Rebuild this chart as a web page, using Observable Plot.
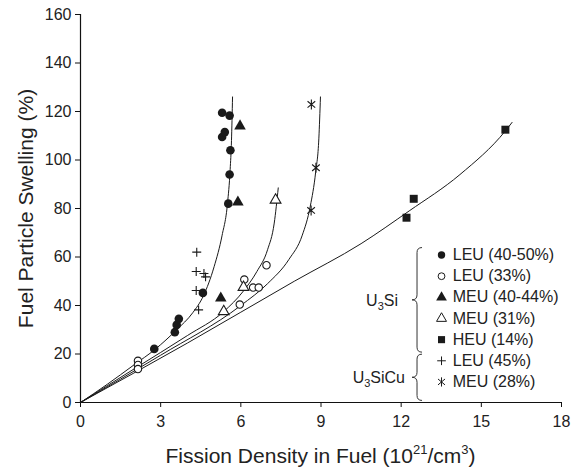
<!DOCTYPE html>
<html><head><meta charset="utf-8">
<script src="https://cdn.jsdelivr.net/npm/d3@7"></script>
<script src="https://cdn.jsdelivr.net/npm/@observablehq/plot@0.6"></script>
<style>
body{margin:0;background:#fff;}
svg{font-family:"Liberation Sans",Arial,sans-serif;}
</style></head><body><div id="chart"></div>
<script>
// ---- data ----
const xTicks = [0, 3, 6, 9, 12, 15, 18];
const yTicks = [0, 20, 40, 60, 80, 100, 120, 140, 160];

const leu4050X = [2.76, 3.53, 3.6, 3.68, 4.58, 5.53, 5.58, 5.61, 5.3, 5.4, 5.3, 5.58];
const leu4050Y = [22.1, 29, 32, 34.5, 45.2, 82, 94, 104, 109.5, 111.5, 119.5, 118.3];
const leu33X = [2.15, 2.15, 2.15, 5.96, 6.13, 6.46, 6.67, 6.96];
const leu33Y = [17.2, 15.5, 13.8, 40.4, 50.7, 47.4, 47.4, 56.6];
const meu4044X = [5.25, 5.89, 5.97];
const meu4044Y = [43, 82.6, 114];
const meu31X = [5.36, 6.1, 7.3];
const meu31Y = [37.5, 47.5, 83.5];
const heuX = [12.2, 12.47, 15.9];
const heuY = [76.2, 84, 112.5];
const leu45X = [4.35, 4.33, 4.62, 4.68, 4.33, 4.42];
const leu45Y = [62, 54, 53.2, 51.8, 46.2, 38.2];
const meu28X = [8.64, 8.81, 8.63];
const meu28Y = [122.9, 96.8, 79.2];

// fitted curves
const curveAX = [0, 1, 2, 2.8, 3.6, 4.2, 4.6, 5.0, 5.3, 5.5, 5.6, 5.65, 5.69];
const curveAY = [0, 7.5, 15.5, 22, 30, 37, 44, 56, 69, 82, 96, 108, 126];
const curveBX = [0, 2, 4, 5.36, 6.1, 6.6, 7.0, 7.25, 7.4];
const curveBY = [0, 13.8, 27.6, 37.5, 46, 54, 63, 74, 88.5];
const curveCX = [0, 3, 6, 7, 7.8, 8.3, 8.6, 8.8, 8.92, 8.98];
const curveCY = [0, 19.5, 40, 49, 59, 69, 81, 95, 109, 126];
const curveDX = [0, 4, 8, 10.5, 12.3, 14.2, 15.9, 16.15];
const curveDY = [0, 24.5, 50, 65.5, 79, 94, 112, 115.5];

const seriesNames = ["LEU (40-50%)", "LEU (33%)", "MEU (40-44%)", "MEU (31%)", "HEU (14%)", "LEU (45%)", "MEU (28%)"];
const seriesX = [leu4050X, leu33X, meu4044X, meu31X, heuX, leu45X, meu28X];
const seriesY = [leu4050Y, leu33Y, meu4044Y, meu31Y, heuY, leu45Y, meu28Y];

// ---- styling ----
// asterisk drawn as a vertical bar crossed by an X
const starSymbol = {
  draw(context, size) {
    const r = Math.sqrt(size / Math.PI);
    const a = 40 * Math.PI / 180;
    const cx = r * Math.cos(a), cy = r * Math.sin(a);
    context.moveTo(0, -r); context.lineTo(0, r);
    context.moveTo(-cx, -cy); context.lineTo(cx, cy);
    context.moveTo(-cx, cy); context.lineTo(cx, -cy);
  }
};
const styles = [
  {symbol: "circle", fill: "#1a1a1a", stroke: "none", r: 4.3, lr: 3.7},
  {symbol: "circle", fill: "white", stroke: "#1a1a1a", r: 3.7, lr: 3.4},
  {symbol: "triangle", fill: "#1a1a1a", stroke: "none", r: 4.3, lr: 4.0},
  {symbol: "triangle", fill: "white", stroke: "#1a1a1a", r: 4.0, lr: 3.7},
  {symbol: "square", fill: "#1a1a1a", stroke: "none", r: 4.5, lr: 4.0},
  {symbol: "plus", fill: "none", stroke: "#1a1a1a", r: 3.0, lr: 2.9},
  {symbol: starSymbol, fill: "none", stroke: "#1a1a1a", r: 5.0, lr: 4.6}
];

const curveTable = [];
[[curveAX, curveAY], [curveBX, curveBY], [curveCX, curveCY], [curveDX, curveDY]].forEach(([xs, ys], k) =>
  xs.forEach((x, i) => curveTable.push({curve: k, x, y: ys[i]})));

const pointMarks = seriesNames.map((name, k) => {
  const s = styles[k];
  const data = seriesX[k].map((x, i) => ({x, y: seriesY[k][i]}));
  return Plot.dot(data, {x: "x", y: "y", symbol: () => s.symbol, r: s.r, fill: s.fill, stroke: s.stroke, strokeWidth: 1.1});
});

// legend positioned in data space (inside plot, lower right)
const legendX = 13.51, legendTextX = 13.93, legendTop = 60.8, legendStep = 8.72;
const legendMarks = seriesNames.map((name, k) => {
  const s = styles[k];
  return Plot.dot([{x: legendX, y: legendTop - k * legendStep}], {x: "x", y: "y", symbol: () => s.symbol, r: s.lr, fill: s.fill, stroke: s.stroke, strokeWidth: 1});
});
const legendText = Plot.text(seriesNames.map((name, k) => ({name, x: legendTextX, y: legendTop - k * legendStep})),
  {x: "x", y: "y", text: "name", textAnchor: "start", fontSize: 16, fill: "#222"});

const chart = Plot.plot({
  width: 580, height: 474,
  marginLeft: 80, marginRight: 19, marginTop: 14, marginBottom: 72,
  style: {fontFamily: "Liberation Sans, Arial, sans-serif", fontSize: "16px", color: "#222", background: "#fff"},
  x: {domain: [0, 18]},
  y: {domain: [0, 160]},
  marks: [
    Plot.axisX({ticks: xTicks, tickSize: 5, tickPadding: 8, label: null, fontSize: 16, stroke: "#111"}),
    Plot.axisY({ticks: yTicks, tickSize: 5, tickPadding: 4, label: null, fontSize: 16, stroke: "#111"}),
    Plot.ruleX([0], {stroke: "#111", strokeWidth: 1.2}),
    Plot.ruleY([0], {stroke: "#111", strokeWidth: 1.2}),
    Plot.line(curveTable, {x: "x", y: "y", z: "curve", curve: "monotone-x", stroke: "#1a1a1a", strokeWidth: 1}),
    ...pointMarks,
    ...legendMarks,
    legendText,
    Plot.text(["Fuel Particle Swelling (%)"], {frameAnchor: "left", textAnchor: "middle", rotate: -90, dx: -54, fontSize: 21, fill: "#222"})
  ]
});
document.getElementById("chart").appendChild(chart);

// ---- annotations: x label with superscripts, braces and group labels ----
const sx = chart.scale("x"), sy = chart.scale("y");
const svg = d3.select(chart);
const xl = svg.append("text")
  .attr("x", (sx.apply(0) + sx.apply(18)) / 2).attr("y", 463)
  .attr("text-anchor", "middle").attr("font-size", 21).attr("fill", "#222");
xl.append("tspan").text("Fission Density in Fuel (10");
xl.append("tspan").attr("dy", -9).attr("font-size", 13).text("21");
xl.append("tspan").attr("dy", 9).text("/cm");
xl.append("tspan").attr("dy", -9).attr("font-size", 13).text("3");
xl.append("tspan").attr("dy", 9).text(")");

function brace(x, y1, y2, w) {
  const ym = (y1 + y2) / 2;
  return `M${x + w},${y1} Q${x},${y1} ${x},${y1 + w} L${x},${ym - w} Q${x},${ym} ${x - w},${ym} Q${x},${ym} ${x},${ym + w} L${x},${y2 - w} Q${x},${y2} ${x + w},${y2}`;
}
const bx = sx.apply(legendX) - 24;
const rowPx = k => sy.apply(legendTop - k * legendStep);
const b1top = rowPx(0) - 7, b1bot = rowPx(4) + 13;
const b2top = rowPx(4) + 15, b2bot = rowPx(6) + 19;
svg.append("path").attr("d", brace(bx, b1top, b1bot, 5)).attr("fill", "none").attr("stroke", "#333").attr("stroke-width", 1);
svg.append("path").attr("d", brace(bx, b2top, b2bot, 5)).attr("fill", "none").attr("stroke", "#333").attr("stroke-width", 1);

function groupLabel(sub, rest, yMid, gap) {
  const t = svg.append("text").attr("x", bx - gap).attr("y", yMid + 6).attr("text-anchor", "end").attr("font-size", 16).attr("fill", "#222");
  t.append("tspan").text("U");
  t.append("tspan").attr("dy", 4).attr("font-size", 11).text(sub);
  t.append("tspan").attr("dy", -4).text(rest);
}
groupLabel("3", "Si", (b1top + b1bot) / 2, 19);
groupLabel("3", "SiCu", (b2top + b2bot) / 2, 12);
</script>
</body></html>
